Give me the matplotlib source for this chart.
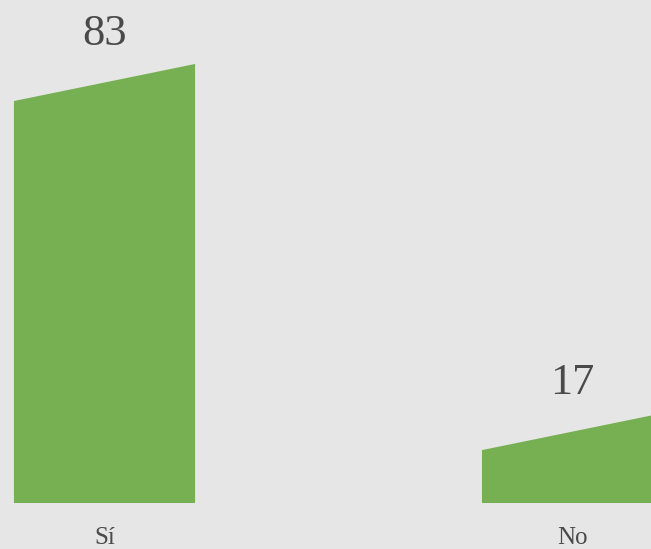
import matplotlib.pyplot as plt

# data
categories = ["Sí", "No"]
values = [83, 17]
value_labels = ["83", "17"]

BG = "#e6e6e6"
GREEN = "#76b052"
TEXT = "#4a4a4a"

bar_width = 0.387
slant = 7.0  # left edge sits this much lower than the right edge

fig = plt.figure(figsize=(6.51, 5.49), dpi=100, facecolor=BG)
ax = fig.add_axes([0, 0, 1, 1])
ax.set_facecolor(BG)

for i, (cat, val, lab) in enumerate(zip(categories, values, value_labels)):
    x0 = i - bar_width / 2
    x1 = i + bar_width / 2
    ax.fill([x0, x1, x1, x0], [0, 0, val, val - slant], color=GREEN, lw=0)
    ax.text(i, val + 5.6, lab, ha="center", va="center",
            fontsize=32, color=TEXT, family="Liberation Serif")
    ax.text(i, -6.6, cat, ha="center", va="center",
            fontsize=18, color=TEXT, family="Liberation Serif")

ax.set_xlim(-0.2233, 1.1677)
ax.set_ylim(-8.70, 95.1)
ax.axis("off")

fig.savefig("out.png", dpi=100, facecolor=BG)
